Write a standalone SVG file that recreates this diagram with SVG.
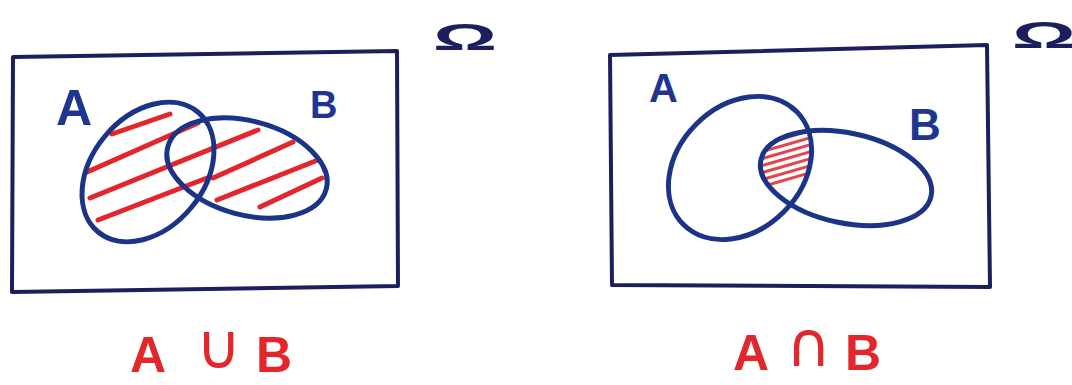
<svg xmlns="http://www.w3.org/2000/svg" width="1072" height="385" viewBox="0 0 1072 385">
<style>
.box{fill:none;stroke:#1c1f5e;stroke-width:4;stroke-linejoin:round;stroke-linecap:round}
.ell{fill:none;stroke:#1b3487;stroke-width:5}
.hatch{stroke:#e3262b;stroke-width:5;stroke-linecap:round}
.hatch2{stroke:#e2454c;stroke-width:3;stroke-linecap:round}
.lbl{font-family:"Liberation Sans","DejaVu Sans",sans-serif;font-weight:bold;fill:#1f3590}
.res{font-family:"Liberation Sans","DejaVu Sans",sans-serif;fill:#e3262b;font-size:50px;font-weight:bold}
.op{font-family:"DejaVu Sans",sans-serif;fill:#e3262b;font-size:62px}
.om{font-family:"Liberation Sans","DejaVu Sans",sans-serif;fill:#1c1f5e;font-size:36px;font-weight:bold}
</style>
<defs>
<clipPath id="clipA2"><ellipse cx="740" cy="168" rx="80" ry="62" transform="rotate(-45 740 168)"/></clipPath>
<clipPath id="clipB2"><ellipse cx="846" cy="178" rx="87" ry="45" transform="rotate(12 846 178)"/></clipPath>
</defs>
<rect width="1072" height="385" fill="#ffffff"/>

<g id="union">
  <polygon class="box" points="13,57 397,51 398,286 12,292"/>
  <text class="om" x="433" y="50" textLength="64" lengthAdjust="spacingAndGlyphs">Ω</text>
  <g id="union-hatch">
    <line class="hatch" x1="112" y1="134" x2="170" y2="114"/>
    <line class="hatch" x1="87" y1="172" x2="198" y2="123"/>
    <line class="hatch" x1="90" y1="198" x2="258" y2="130"/>
    <line class="hatch" x1="98" y1="220" x2="207" y2="178"/>
    <line class="hatch" x1="213" y1="178" x2="293" y2="142"/>
    <line class="hatch" x1="217" y1="200" x2="318" y2="160"/>
    <line class="hatch" x1="260" y1="207" x2="322" y2="178"/>
  </g>
  <ellipse id="u-A" class="ell" cx="148" cy="172" rx="78" ry="56" transform="rotate(-50 148 172)"/>
  <ellipse id="u-B" class="ell" cx="247" cy="168" rx="82" ry="47" transform="rotate(15 247 168)"/>
  <text class="lbl" x="56" y="125" font-size="50">A</text>
  <text class="lbl" x="310" y="118" font-size="38">B</text>
  <text class="res" x="130" y="372">A</text>
  <text class="op" x="196" y="368">∪</text>
  <text class="res" x="256" y="372">B</text>
</g>

<g id="intersection">
  <polygon class="box" points="610,55 987,45 990,287 612,285"/>
  <text class="om" x="1012" y="48" textLength="64" lengthAdjust="spacingAndGlyphs">Ω</text>
  <g clip-path="url(#clipA2)">
    <g clip-path="url(#clipB2)">
      <line class="hatch2" x1="750" y1="148" x2="820" y2="128"/>
      <line class="hatch2" x1="750" y1="155" x2="820" y2="135"/>
      <line class="hatch2" x1="750" y1="162" x2="820" y2="142"/>
      <line class="hatch2" x1="750" y1="169" x2="820" y2="149"/>
      <line class="hatch2" x1="750" y1="176" x2="820" y2="156"/>
      <line class="hatch2" x1="750" y1="183" x2="820" y2="163"/>
      <line class="hatch2" x1="750" y1="190" x2="820" y2="170"/>
    </g>
  </g>
  <ellipse id="i-A" class="ell" cx="740" cy="168" rx="80" ry="62" transform="rotate(-45 740 168)"/>
  <ellipse id="i-B" class="ell" cx="846" cy="178" rx="87" ry="45" transform="rotate(12 846 178)"/>
  <text class="lbl" x="649" y="102" font-size="40">A</text>
  <text class="lbl" x="909" y="140" font-size="44">B</text>
  <text class="res" x="733" y="370">A</text>
  <text class="op" x="786" y="366">∩</text>
  <text class="res" x="845" y="370">B</text>
</g>
</svg>
